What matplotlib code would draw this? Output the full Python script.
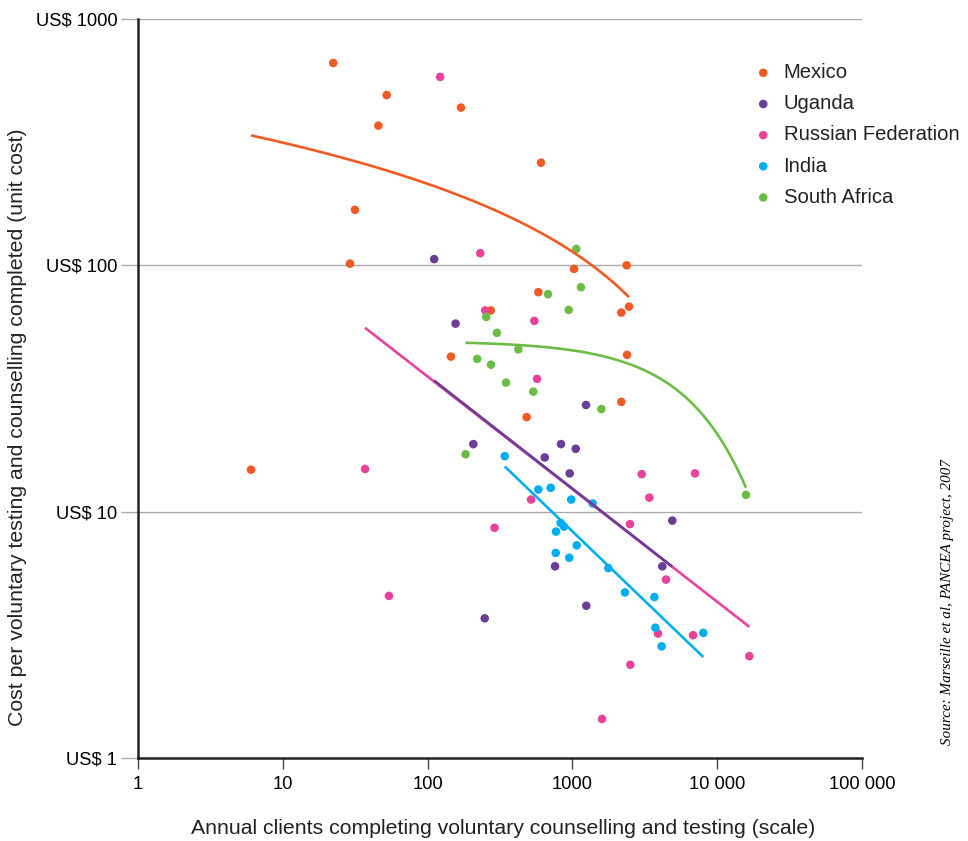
import numpy as np
import matplotlib
matplotlib.use('Agg')
import matplotlib.pyplot as plt

# annual clients (x) and unit cost in US$ (y)
mexico_x = [22.3, 52.2, 170, 45.7, 607, 31.5, 29.1, 1026, 2371, 582, 2177, 2461,
            273, 145, 2383, 2177, 483, 6.03]
mexico_y = [663, 491, 437, 369, 261, 168, 101.6, 96.7, 100, 77.8, 64.3, 68,
            65.6, 42.6, 43.3, 27.9, 24.2, 14.8]

uganda_x = [111, 156, 1242, 207, 834, 1054, 644, 958, 4898, 759, 4178, 1247, 248]
uganda_y = [106, 58, 27.1, 18.8, 18.8, 18.0, 16.6, 14.3, 9.2, 6.0, 6.0, 4.15, 3.69]

russia_x = [122, 231, 250, 546, 570, 37, 3011, 7030, 3397, 518, 2500, 290, 4430,
            54.1, 3900, 6808, 16670, 2512, 1601]
russia_y = [582, 112, 65.6, 59.5, 34.6, 14.9, 14.2, 14.3, 11.4, 11.2, 8.9, 8.6, 5.3,
            4.55, 3.20, 3.15, 2.59, 2.39, 1.44]

india_x = [341, 582, 708, 982, 1380, 830, 875, 771, 1071, 767, 952, 1770, 2307,
           3681, 3741, 8017, 4132]
india_y = [16.8, 12.3, 12.5, 11.2, 10.8, 9.0, 8.7, 8.3, 7.3, 6.8, 6.5, 5.9, 4.7,
           4.5, 3.38, 3.22, 2.84]

safrica_x = [1064, 678, 1146, 943, 254, 301, 423, 220, 274, 348, 537, 1584, 183, 15800]
safrica_y = [116.6, 76.4, 81.5, 65.9, 61.7, 53.2, 45.6, 41.7, 39.5, 33.4, 30.7,
             26.1, 17.1, 11.7]

countries = ['Mexico', 'Uganda', 'Russian Federation', 'India', 'South Africa']
colors = ['#f15a22', '#6b3d98', '#e8429a', '#00aeef', '#6cbd45']
trend_kind = ['log', 'power', 'power', 'power', 'exp']
trend_z = [4, 5, 4, 4, 4]

y_ticks = [1, 10, 100, 1000]
y_labels = ['US$ 1', 'US$ 10', 'US$ 100', 'US$ 1000']
x_ticks = [1, 10, 100, 1000, 10000, 100000]
x_labels = ['1', '10', '100', '1000', '10 000', '100 000']


def trend(x, y, kind):
    # excel-style trendlines fitted to the points
    x = np.asarray(x, float)
    y = np.asarray(y, float)
    xs = np.logspace(np.log10(x.min()), np.log10(x.max()), 200)
    if kind == 'log':
        b, a = np.polyfit(np.log(x), y, 1)
        return xs, a + b * np.log(xs)
    if kind == 'power':
        b, a = np.polyfit(np.log(x), np.log(y), 1)
        return xs, np.exp(a) * xs ** b
    b, a = np.polyfit(x, np.log(y), 1)
    return xs, np.exp(a + b * xs)


plt.rcParams['font.family'] = ['Liberation Sans', 'DejaVu Sans']

fig = plt.figure(figsize=(9.68, 8.41), dpi=100)
ax = fig.add_axes([138 / 968, 83 / 841, 724 / 968, 739 / 841])

data = [(mexico_x, mexico_y), (uganda_x, uganda_y), (russia_x, russia_y),
        (india_x, india_y), (safrica_x, safrica_y)]

for (xv, yv), name, col in zip(data, countries, colors):
    ax.scatter(xv, yv, s=38, color=col, edgecolors='none', label=name, zorder=3)

for (xv, yv), col, kind, z in zip(data, colors, trend_kind, trend_z):
    tx, ty = trend(xv, yv, kind)
    ax.plot(tx, ty, color=col, lw=1.9, zorder=z, solid_capstyle='butt')

ax.set_xscale('log')
ax.set_yscale('log')
ax.set_xlim(1, 100000)
ax.set_ylim(1, 1000)

ax.set_xticks(x_ticks)
ax.set_xticklabels(x_labels)
ax.set_yticks(y_ticks)
ax.set_yticklabels(y_labels)
ax.minorticks_off()
ax.tick_params(axis='x', length=8, width=1, color='#444444', labelsize=13.2, pad=5)
ax.tick_params(axis='y', length=12, width=1, color='#aaaaaa', labelsize=13.2, pad=3)

for v in y_ticks[1:]:
    ax.axhline(v, color='#aaaaaa', lw=1, zorder=1)

for s in ['top', 'right']:
    ax.spines[s].set_visible(False)
for s in ['left', 'bottom']:
    ax.spines[s].set_linewidth(1.8)
    ax.spines[s].set_color('#222222')

fig.text(503 / 968, 1 - 829 / 841,
         'Annual clients completing voluntary counselling and testing (scale)',
         ha='center', va='center', fontsize=15.3, color='#222222')
fig.text(18 / 968, 1 - 427 / 841,
         'Cost per voluntary testing and counselling completed (unit cost)',
         rotation=90, ha='center', va='center', fontsize=15.3, color='#222222')

leg = ax.legend(loc='upper left', bbox_to_anchor=(745 / 968, 1 - 53 / 841),
                bbox_transform=fig.transFigure, frameon=False, fontsize=14.6,
                handletextpad=0.6, labelspacing=0.6, borderpad=0, handlelength=0.8)
for t in leg.get_texts():
    t.set_color('#222222')

fig.text(948 / 968, 1 - 602 / 841, 'Source: Marseille et al, PANCEA project, 2007',
         rotation=90, ha='center', va='center', fontsize=10.9, style='italic',
         family=['Liberation Serif', 'DejaVu Serif'])

fig.savefig('out.png', dpi=100)
